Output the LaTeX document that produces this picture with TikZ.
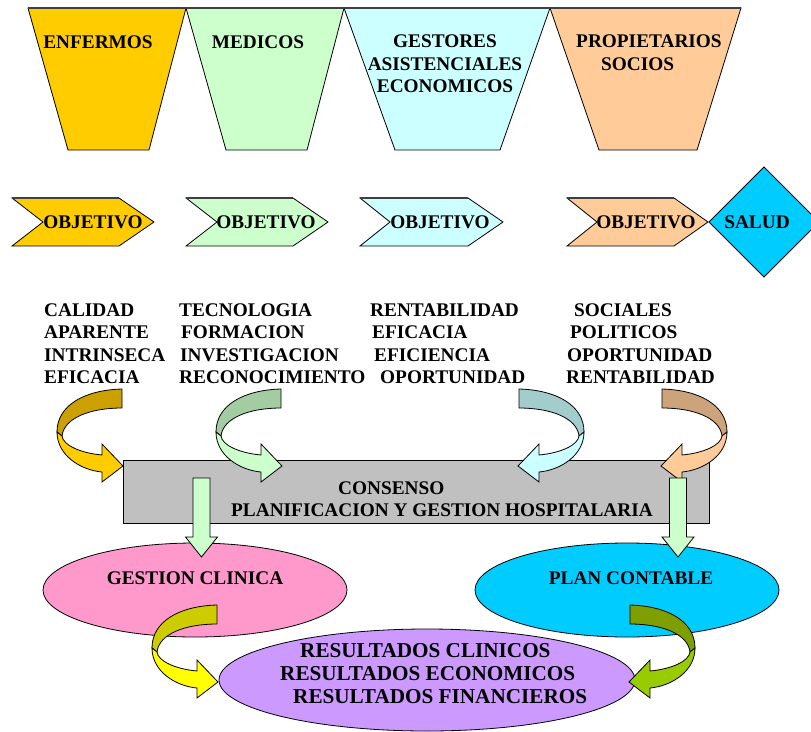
\documentclass[tikz,border=0pt]{standalone}
\usepackage{fontspec}
\setmainfont{Liberation Serif}
\usetikzlibrary{shapes.geometric}

\definecolor{enfermos}{HTML}{FFCC00}
\definecolor{medicos}{HTML}{CCFFCC}
\definecolor{gestores}{HTML}{CCFFFF}
\definecolor{propiet}{HTML}{FFCC99}
\definecolor{salud}{HTML}{00CCFF}
\definecolor{consenso}{HTML}{C0C0C0}
\definecolor{clinica}{HTML}{FF99CC}
\definecolor{contable}{HTML}{00CCFF}
\definecolor{resultados}{HTML}{CC99FF}
\definecolor{enfdark}{HTML}{CCA000}
\definecolor{meddark}{HTML}{A3CCA3}
\definecolor{gesdark}{HTML}{A3CCCC}
\definecolor{prodark}{HTML}{CCA37A}
\definecolor{amarillo}{HTML}{FFFF00}
\definecolor{amadark}{HTML}{CCCC00}
\definecolor{oliva}{HTML}{99CC00}
\definecolor{olivadark}{HTML}{7F9F00}

\begin{document}
\begin{tikzpicture}[x=1pt,y=-1pt,
  txt/.style={font=\fontsize{19.3}{22.5}\selectfont\bfseries, inner sep=0pt, text=black},
  bigtxt/.style={font=\fontsize{21.2}{23}\selectfont\bfseries, inner sep=0pt, text=black},
  outl/.style={draw=black, line width=0.8pt, line join=miter},
  topedge/.style={line width=1.6pt, black!75},
  pics/twistarrow/.style 2 args={code={
    % back side of the ribbon, seen from above
    \draw[outl, fill=#1] (0,0) .. controls (-37,1) and (-65,16) .. (-65,43)
      -- (-60,47) .. controls (-58,29) and (-32,19) .. (0,19) -- cycle;
    % front side with the arrow head
    \draw[outl, fill=#2] (-65,43) .. controls (-65,66) and (-42,81) .. (-20,83)
      -- (-20,93) -- (1,77) -- (-20,55) -- (-20,66)
      .. controls (-42,64) and (-59,56) .. (-60,47) -- cycle;
  }}
]
\useasboundingbox (0,0) rectangle (811,731);

% ---- actors (trapezoids) ----
\draw[outl, fill=enfermos] (28,8) -- (186,8) -- (149,150) -- (68,150) -- cycle;
\draw[outl, fill=medicos]  (186,8) -- (344,8) -- (307,150) -- (226,150) -- cycle;
\draw[outl, fill=gestores] (344,8) -- (550,8) -- (500,150) -- (395,150) -- cycle;
\draw[outl, fill=propiet]  (550,8) -- (741,8) -- (697,150) -- (599,150) -- cycle;
\draw[topedge] (28,8) -- (741,8);

\node[txt] (enf) at (98,42) {ENFERMOS};
\node[txt] (med) at (258,42) {MEDICOS};
\node[txt, align=center] (ges) at (445,64) {GESTORES\\ASISTENCIALES\\ECONOMICOS};
\node[txt, align=left, anchor=west] (pro) at (576,52.5) {PROPIETARIOS\\\hspace*{25pt}SOCIOS};

% ---- objectives (chevrons) ----
\draw[outl, fill=enfermos] (12,198) -- (119,198) -- (154,222) -- (119,246) -- (12,246) -- (43,222) -- cycle;
\draw[outl, fill=medicos]  (186,198) -- (293,198) -- (328,222) -- (293,246) -- (186,246) -- (217,222) -- cycle;
\draw[outl, fill=gestores] (360,198) -- (468,198) -- (503,222) -- (468,246) -- (360,246) -- (390,222) -- cycle;
\draw[outl, fill=propiet]  (567,198) -- (674,198) -- (708,222) -- (674,246) -- (567,246) -- (597,222) -- cycle;
\draw[topedge] (12,198) -- (119,198) (186,198) -- (293,198) (360,198) -- (468,198) (567,198) -- (674,198);
\draw[outl, fill=salud] (709,222) -- (764,167) -- (819,222) -- (764,277) -- cycle;

\node[txt] (obj1) at (93,222) {OBJETIVO};
\node[txt] (obj2) at (266,222) {OBJETIVO};
\node[txt] (obj3) at (440,222) {OBJETIVO};
\node[txt] (obj4) at (646,222) {OBJETIVO};
\node[txt] (sal)  at (757,222) {SALUD};

% ---- criteria lists ----
\node[txt, align=left, anchor=west] (lst1) at (44,343.5)
  {CALIDAD\\APARENTE\\INTRINSECA\\EFICACIA};
\node[txt, align=left, anchor=west] (lst2) at (179,343.5)
  {TECNOLOGIA\\\hspace*{2pt}FORMACION\\\hspace*{1pt}INVESTIGACION\\RECONOCIMIENTO};
\node[txt, align=left, anchor=west] (lst3) at (370,343.5)
  {RENTABILIDAD\\\hspace*{2pt}EFICACIA\\\hspace*{4pt}EFICIENCIA\\\hspace*{10pt}OPORTUNIDAD};
\node[txt, align=left, anchor=west] (lst4) at (566,343.5)
  {\hspace*{8pt}SOCIALES\\\hspace*{4pt}POLITICOS\\\hspace*{1pt}OPORTUNIDAD\\RENTABILIDAD};

% ---- consensus box ----
\node[outl, fill=consenso, minimum width=586pt, minimum height=63pt, inner sep=0pt]
  (cons) at (416,491.5) {};
\node[txt, anchor=west] (cons1) at (338,488) {CONSENSO};
\node[txt, anchor=west] (cons2) at (231,510) {PLANIFICACION Y GESTION HOSPITALARIA};

% ---- curved arrows from criteria into the consensus box ----
\pic at (122,389) {twistarrow={enfdark}{enfermos}};
\pic at (281,389) {twistarrow={meddark}{medicos}};
\pic[xscale=-1] at (519,389) {twistarrow={gesdark}{gestores}};
\pic[xscale=-1] at (662,389) {twistarrow={prodark}{propiet}};

% ---- management ellipses ----
\node[outl, ellipse, fill=clinica, minimum width=304pt, minimum height=94pt, inner sep=0pt]
  (gc) at (195,590) {};
\node[txt] (gct) at (195,578) {GESTION CLINICA};
\node[outl, ellipse, fill=contable, minimum width=304pt, minimum height=94pt, inner sep=0pt]
  (pc) at (627,590) {};
\node[txt] (pct) at (631,578) {PLAN CONTABLE};

% ---- results ellipse ----
\node[outl, ellipse, fill=resultados, minimum width=416pt, minimum height=102pt, inner sep=0pt]
  (res) at (427,680) {};
\node[bigtxt, align=left, anchor=west] (rest) at (280,674)
  {\hspace*{20pt}RESULTADOS CLINICOS\\RESULTADOS ECONOMICOS\\\hspace*{13pt}RESULTADOS FINANCIEROS};

% ---- curved arrows into the results ----
\pic at (217,605) {twistarrow={amadark}{amarillo}};
\pic[xscale=-1] at (630,605) {twistarrow={olivadark}{oliva}};

% ---- straight block arrows from consensus to management ----
\coordinate (dl) at (201.5,478);
\coordinate (dr) at (678,478);
\draw[outl, fill=medicos] (dl) ++(-8.5,0) -- ++(17,0) -- ++(0,59) -- ++(7.5,0)
  -- ++(-16,20) -- ++(-16,-20) -- ++(7.5,0) -- cycle;
\draw[outl, fill=medicos] (dr) ++(-8.5,0) -- ++(17,0) -- ++(0,59) -- ++(7.5,0)
  -- ++(-16,20) -- ++(-16,-20) -- ++(7.5,0) -- cycle;

\end{tikzpicture}
\end{document}
